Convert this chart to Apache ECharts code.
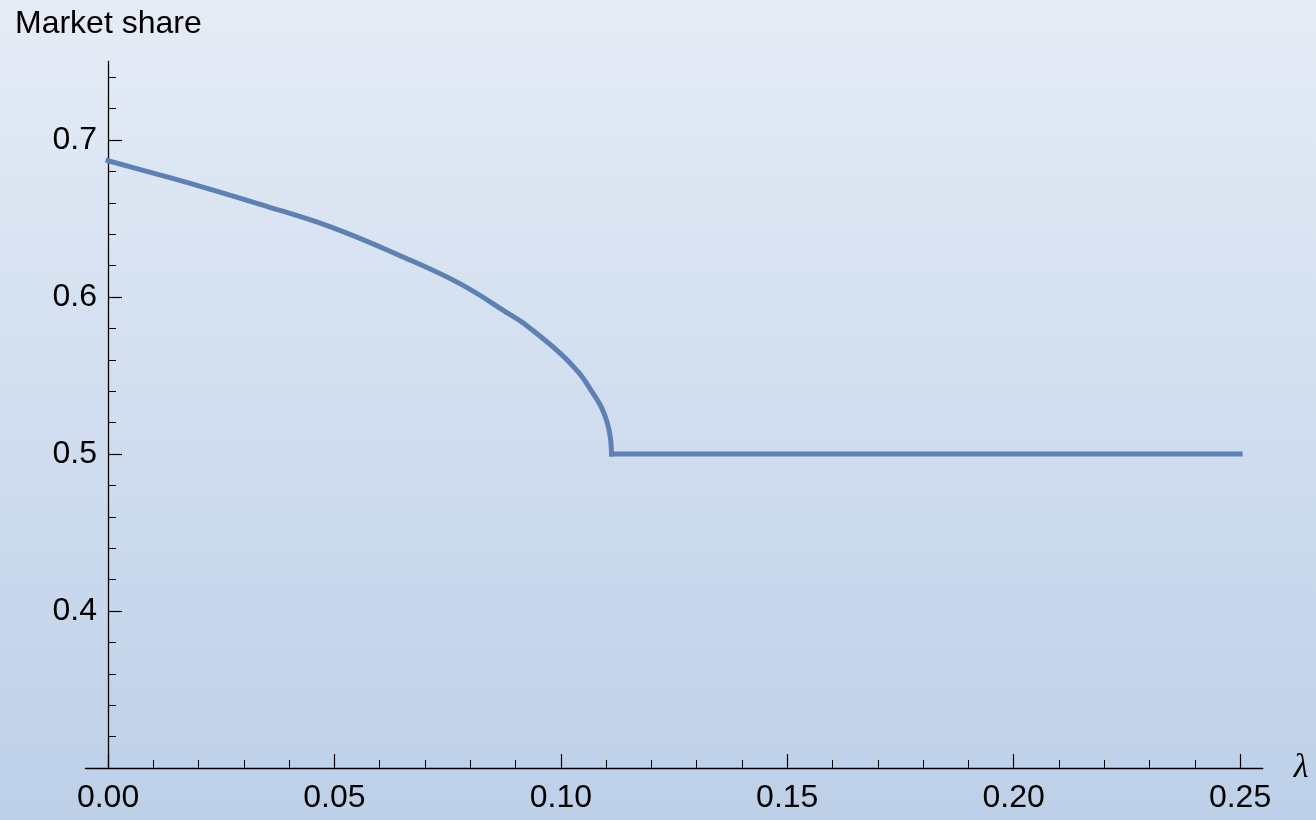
<!DOCTYPE html>
<html>
<head>
<meta charset="utf-8">
<script src="https://cdn.jsdelivr.net/npm/echarts@6/dist/echarts.min.js"></script>
<style>
  html, body { margin: 0; padding: 0; }
  #chart { width: 1316px; height: 820px; }
</style>
</head>
<body>
<div id="chart"></div>
<script>
// values
const lambda = [0, 0.01, 0.02, 0.0336, 0.049, 0.0645, 0.0777, 0.0888, 0.0917, 0.0998,
  0.1042, 0.1064, 0.1087, 0.1098, 0.1105, 0.111, 0.1112, 0.25]
const share = [0.6868, 0.6789, 0.6708, 0.659, 0.6448, 0.6263, 0.6085, 0.5888, 0.5834, 0.5643,
  0.551, 0.5418, 0.5312, 0.5238, 0.5172, 0.5089, 0.5, 0.5]
// index where the curve reaches 0.5 and the plateau starts
const kink = 16

const xMajor = [0, 0.05, 0.1, 0.15, 0.2, 0.25]
const xMinor = [0.01, 0.02, 0.03, 0.04, 0.06, 0.07, 0.08, 0.09, 0.11, 0.12, 0.13, 0.14,
  0.16, 0.17, 0.18, 0.19, 0.21, 0.22, 0.23, 0.24]
const yMajor = [0.4, 0.5, 0.6, 0.7]
const yMinor = [0.32, 0.34, 0.36, 0.38, 0.42, 0.44, 0.46, 0.48, 0.52, 0.54, 0.56, 0.58,
  0.62, 0.64, 0.66, 0.68, 0.72, 0.74]

const font = '"Liberation Sans", Arial, sans-serif'
const black = '#000'
const lineColor = '#5E81B5'

const chart = echarts.init(document.getElementById('chart'), null, { renderer: 'canvas' })

const points = lambda.map((l, i) => [l, share[i]])

const xBase = { type: 'value', min: -0.005, max: 0.255, position: 'bottom', splitLine: { show: false } }
// y axis sits at x = 0, which is 22.6px inside the grid's left edge
const yBase = { type: 'value', min: 0.3, max: 0.75, position: 'left', offset: -22.6, splitLine: { show: false } }

const lineSeries = (data, smooth) => ({
  type: 'line',
  data,
  showSymbol: false,
  smooth,
  lineStyle: { color: lineColor, width: 5, cap: 'square', join: 'round' },
  emphasis: { disabled: true },
})

chart.setOption({
  animation: false,
  backgroundColor: new echarts.graphic.LinearGradient(0, 0, 0, 1, [
    { offset: 0, color: '#E5ECF6' },
    { offset: 1, color: '#BDD0E8' },
  ]),
  title: {
    text: 'Market share',
    left: 10,
    top: 3,
    textStyle: { fontFamily: font, fontSize: 32, fontWeight: 'normal', color: black },
  },
  grid: { left: 85.4, right: 53.3, top: 61.5, bottom: 52 },
  xAxis: [
    {
      ...xBase,
      name: 'λ',
      nameLocation: 'end',
      nameGap: 31,
      nameTextStyle: { fontFamily: '"Liberation Serif", serif', fontStyle: 'italic', fontSize: 34, color: black },
      axisLine: { onZero: false, lineStyle: { color: black, width: 1.3 } },
      axisTick: { inside: true, length: 14, customValues: xMajor, lineStyle: { color: black, width: 1.2 } },
      axisLabel: {
        customValues: xMajor,
        margin: 14,
        fontFamily: font,
        fontSize: 32,
        color: black,
        formatter: v => v.toFixed(2),
      },
    },
    {
      ...xBase,
      axisLine: { show: false, onZero: false },
      axisTick: { inside: true, length: 8, customValues: xMinor, lineStyle: { color: black, width: 1 } },
      axisLabel: { show: false },
    },
  ],
  yAxis: [
    {
      ...yBase,
      axisLine: { onZero: false, lineStyle: { color: black, width: 1.3 } },
      axisTick: { inside: true, length: 14, customValues: yMajor, lineStyle: { color: black, width: 1.2 } },
      axisLabel: {
        customValues: yMajor,
        margin: 11,
        fontFamily: font,
        fontSize: 32,
        color: black,
        formatter: v => v.toFixed(1),
      },
    },
    {
      ...yBase,
      axisLine: { show: false, onZero: false },
      axisTick: { inside: true, length: 8, customValues: yMinor, lineStyle: { color: black, width: 1 } },
      axisLabel: { show: false },
    },
  ],
  series: [
    lineSeries(points.slice(0, kink + 1), 0.4),
    lineSeries(points.slice(kink), false),
  ],
})
</script>
</body>
</html>
